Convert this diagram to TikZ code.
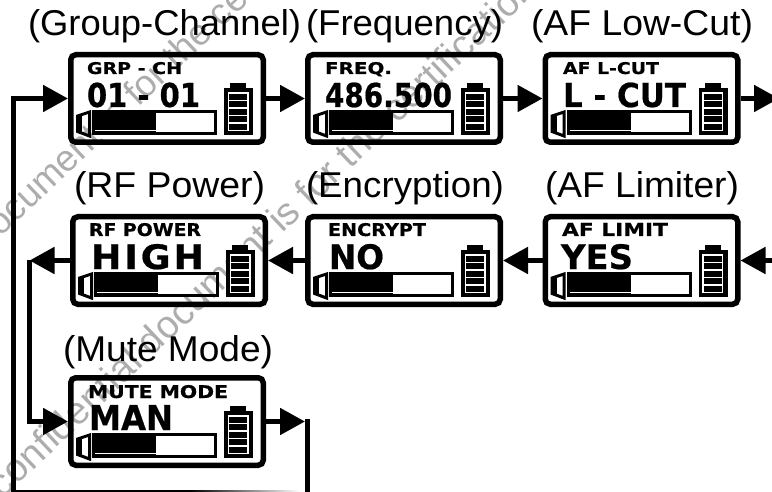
\documentclass[tikz,border=0pt]{standalone}
\usepackage{fontspec}
\usepackage{graphicx}
\setmainfont{Liberation Sans}
\newfontfamily\lcdfont{DejaVu Sans}[BoldFont={DejaVu Sans Bold},BoldFeatures={FakeBold=0.6}]
\usetikzlibrary{arrows.meta}
\tikzset{
  screen/.style={draw=black,line width=5.5pt,rounded corners=5pt,minimum width=192.5pt,minimum height=87.5pt,inner sep=0pt},
  flow/.style={line width=5pt,-{Triangle[length=25pt,width=26pt]}},
  wire/.style={line width=5pt},
  txt/.style={inner sep=0pt,outer sep=0pt,anchor=base west},
  mark text/.style={txt,text=black!32,rotate=43.5,font=\fontsize{37}{37}\selectfont}
}
% x0, y0 = outer top-left of a device screen
\newcommand{\device}[3]{%
  \node[screen] (#1) at (#2+99,#3+46.5) {};
  \begin{scope}[shift={(#2,#3)}]
    \fill[black] (24,58) rectangle (88,80);
    \draw[line width=3pt] (25.5,59.5) rectangle (147.5,81.5);
    \draw[white,line width=1pt] (27,78.6) -- (88,78.6);
    \draw[line width=3pt,line join=miter] (9.5,64) -- (21.5,60) -- (21.5,84) -- (9.5,79.5) -- cycle;
    \fill[black] (8,63) rectangle (14,80);
    \fill[black] (156,36) rectangle (185,83);
    \fill[black] (162,31) rectangle (178,37);
    \draw[white,line width=1.3pt] (160.5,41) rectangle (180,78.5);
    \foreach \yy in {48.5,56,63.5,71}{\draw[white,line width=1.3pt] (160.5,\yy) -- (180,\yy);}
  \end{scope}%
}
% name, x0, x1, baseline, height, text
\newcommand{\lcdtext}[6]{%
  \pgfmathsetlengthmacro{\boxw}{#3-#2}%
  \node[txt] (#1) at (#2,#4) {\resizebox{\boxw}{#5pt}{\lcdfont\bfseries #6}};%
}
\newcommand{\boxtitle}[5]{%
  \pgfmathsetlengthmacro{\boxw}{#3-#2}%
  \node[txt] (#1) at (#2,#4) {\resizebox{\boxw}{26pt}{#5}};%
}
\begin{document}
\begin{tikzpicture}[x=1pt,y=-1pt]
\useasboundingbox (0,0) rectangle (772,492);
\clip (0,0) rectangle (772,492);
\fill[white] (0,0) rectangle (772,492);
% watermark
\node[mark text] (markA) at (-14,252) {document is for the certification};
\node[mark text,font=\fontsize{38.5}{38.5}\selectfont] (markB) at (3,499) {confidential document is for the certification};
% screens
\device{grp}{68}{52}
\device{freq}{305}{52}
\device{cut}{542.5}{52}
\device{rf}{70}{214}
\device{enc}{305}{214}
\device{lim}{542.5}{214}
\device{mute}{68}{375}
% titles
\boxtitle{tGrp}{28}{301}{36}{(Group-Channel)}
\boxtitle{tFreq}{306}{503}{36}{(Frequency)}
\boxtitle{tCut}{531}{753}{36}{(AF Low-Cut)}
\boxtitle{tRf}{74}{265}{198}{(RF Power)}
\boxtitle{tEnc}{306}{504}{198}{(Encryption)}
\boxtitle{tLim}{545}{739}{198}{(AF Limiter)}
\boxtitle{tMute}{63}{273}{361}{(Mute Mode)}
% screen text
\lcdtext{sGrp}{87}{182}{74}{12}{GRP - CH}
\lcdtext{bGrp}{87}{200}{107}{24.5}{01 - 01}
\lcdtext{sFreq}{325}{392}{74}{12}{FREQ.}
\lcdtext{bFreq}{325}{452}{107}{24.5}{486.500}
\lcdtext{sCut}{563}{659}{74}{12}{AF L-CUT}
\lcdtext{bCut}{563}{686}{107}{24.5}{L - CUT}
\lcdtext{sRf}{89}{201}{236}{13}{RF POWER}
\lcdtext{bRf}{91}{204}{269}{25}{\addfontfeature{LetterSpace=8}HIGH}
\lcdtext{sEnc}{328}{426}{236}{13}{ENCRYPT}
\lcdtext{bEnc}{329}{384}{269}{25}{NO}
\lcdtext{sLim}{562}{668}{236}{13}{AF LIMIT}
\lcdtext{bLim}{561}{633}{269}{25}{YES}
\lcdtext{sMute}{88}{228}{398}{13}{MUTE MODE}
\lcdtext{bMute}{89}{173}{430}{25}{MAN}
% loose ends
\coordinate (outR1) at (779,98.5);
\coordinate (inR2) at (790,260.5);
\coordinate (rfTurn) at (29.5,260.5);
\coordinate (muteTurn) at (29.5,421.5);
\coordinate (grpTurn) at (13.5,98.5);
\coordinate (low) at (13.5,495);
\coordinate (lowR) at (307,495);
\coordinate (muteOut) at (305,421.5);
\coordinate (muteDrop) at (307,419);
% connectors
\draw[flow] (grp.east) -- (freq.west);
\draw[flow] (freq.east) -- (cut.west);
\draw[flow] (cut.east) -- (outR1);
\draw[flow] (inR2) -- (lim.east);
\draw[flow] (lim.west) -- (enc.east);
\draw[flow] (enc.west) -- (rf.east);
\draw[flow] (rf.west) -- (rfTurn);
\draw[wire] (rfTurn) -- (muteTurn);
\draw[flow] (27,421.5) -- (mute.west);
\draw[flow] (mute.east) -- (muteOut);
\draw[wire] (muteDrop) -- (lowR);
\draw[wire] (low) -- (grpTurn);
\fill[black] (11,490) rectangle (190,492);
\shade[left color=black,right color=white] (190,490) rectangle (300,492);
\draw[flow] (11,98.5) -- (grp.west);
\end{tikzpicture}
\end{document}
